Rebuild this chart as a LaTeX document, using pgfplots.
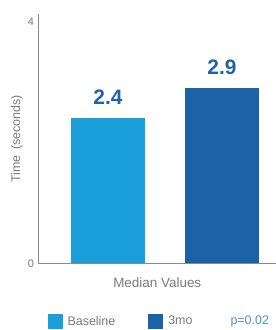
\documentclass[border=0pt]{standalone}
\usepackage{fontspec}
\setmainfont{Liberation Sans}
\usepackage{pgfplots}
\pgfplotsset{compat=1.18}
\definecolor{cbase}{HTML}{1A9FDA}
\definecolor{cthree}{HTML}{1B62A6}
\definecolor{clab}{HTML}{2063AC}
\definecolor{cp}{HTML}{4A8FD2}
\definecolor{ctxt}{HTML}{7A7A7A}
\definecolor{caxis}{HTML}{8A8A8A}
\begin{document}
\begin{tikzpicture}
\begin{axis}[
  scale only axis,
  width=237.5bp, height=249.3bp,
  xmin=-0.6096, xmax=1.4737,
  ymin=0, ymax=4.12,
  axis lines=left,
  axis line style={caxis, line width=0.8pt, -},
  ytick={0,4},
  yticklabels={0,4},
  xtick=\empty,
  major tick length=0pt,
  yticklabel style={font=\fontsize{11}{13}\selectfont, text=ctxt, xshift=-1bp},
  ylabel={Time \,(seconds)},
  ylabel style={font=\fontsize{12.5}{14}\selectfont, text=ctxt, at={(axis description cs:-0.0905,0.5)}, anchor=center},
  bar width=74bp,
  ybar, bar shift=0pt,
  nodes near coords,
  nodes near coords style={font=\bfseries\fontsize{21}{24}\selectfont, text=clab, anchor=south, yshift=10bp,
    /pgf/number format/.cd, fixed, fixed zerofill, precision=1, assume math mode=true},
  legend columns=3,
  legend style={draw=none, fill=none, at={(rel axis cs:0.5,-0.0)}, anchor=center, yshift=-58bp, xshift=2bp,
    font=\fontsize{12.5}{14}\selectfont, text=ctxt,
    /tikz/every even column/.append style={column sep=31bp},
    /tikz/column sep=3bp},
  legend image code/.code={\fill[#1] (0bp,-7.5bp) rectangle (15bp,7.5bp);},
  clip=false,
]
\addplot[fill=cbase, draw=none] coordinates {(0,2.4)};
\addlegendentry{Baseline}
\addplot[fill=cthree, draw=none] coordinates {(1,2.9)};
\addlegendentry{3mo}
\addlegendimage{empty legend}
\addlegendentry{\textcolor{cp}{p=0.02}}
\node[font=\fontsize{13.5}{15}\selectfont, text=ctxt] at (rel axis cs:0.5,0) [yshift=-19bp] {Median Values};
\end{axis}
\pgfresetboundingbox
\path[use as bounding box] ([shift={(-38.5bp,-66.7bp)}]current axis.south west) rectangle ([shift={(0bp,14bp)}]current axis.north east);
\end{tikzpicture}
\end{document}
